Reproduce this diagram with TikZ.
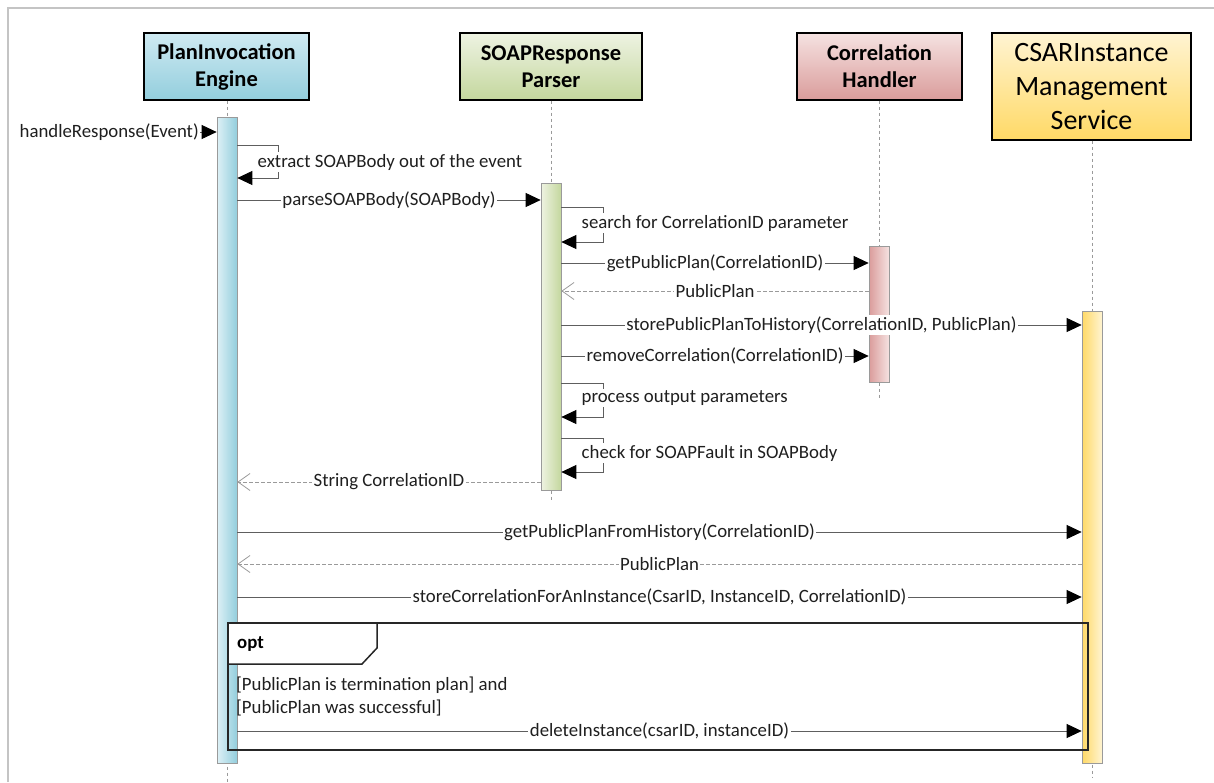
\documentclass[tikz,border=0pt]{standalone}
\usepackage{fontspec}
\setmainfont{Carlito}
\usetikzlibrary{arrows.meta}

% lifeline palettes
\definecolor{pieTop}{HTML}{CFEAF2}
\definecolor{pieBot}{HTML}{93CEDD}
\definecolor{srpTop}{HTML}{EEF3E2}
\definecolor{srpBot}{HTML}{C4D79E}
\definecolor{chTop}{HTML}{F5E2E1}
\definecolor{chBot}{HTML}{DA9C9B}
\definecolor{csTop}{HTML}{FFF4D2}
\definecolor{csBot}{HTML}{FFD966}
\definecolor{frameGray}{HTML}{C4C4C4}
\definecolor{lineGray}{HTML}{5E5E5E}
\definecolor{dashGray}{HTML}{9A9A9A}

\begin{document}
\begin{tikzpicture}[x=1pt,y=-1pt,
  head/.style={draw=black, line width=1.3pt, align=center, inner sep=0pt,
               font=\fontsize{22.5}{27}\selectfont\bfseries},
  life/.style={draw=dashGray, dash pattern=on 3pt off 3pt, line width=0.7pt},
  actbar/.style={draw=dashGray, line width=0.7pt, minimum width=20pt,
                 inner sep=0pt, anchor=north},
  lbl/.style={fill=white, inner sep=1.5pt, text=black!88,
              font=\fontsize{18.8}{23}\selectfont},
  call/.style={draw=lineGray, line width=0.8pt,
               -{Triangle[length=15pt,width=14pt,color=black]}},
  reply/.style={draw=dashGray, line width=0.8pt, dash pattern=on 3.5pt off 2.5pt,
                -{Straight Barb[length=12pt,width=17pt,color=dashGray,line width=0.8pt]}},
  fragment/.style={draw=black!85, line width=1.5pt},
]
\useasboundingbox (0,0) rectangle (1214,782);

% outer frame
\coordinate (frBL) at (8,782);
\coordinate (frTR) at (1214,8);
\draw[frameGray, line width=1.3pt] (frBL) |- (frTR);

% participants
\node[head, top color=pieTop, bottom color=pieBot, minimum width=165pt, minimum height=67pt]
  (pie) at (226.5,66.5) {PlanInvocation\\Engine};
\node[head, top color=srpTop, bottom color=srpBot, minimum width=182pt, minimum height=67pt]
  (srp) at (551,66.5) {SOAPResponse\\Parser};
\node[head, top color=chTop, bottom color=chBot, minimum width=165pt, minimum height=67pt]
  (ch) at (879.5,66.5) {Correlation\\Handler};
\node[head, top color=csTop, bottom color=csBot, minimum width=199pt, minimum height=107pt,
      font=\fontsize{28}{34}\selectfont]
  (cs) at (1091.5,86.5) {CSARInstance\\Management\\Service};

% lifeline ends
\coordinate (pieEnd) at (227,782);
\coordinate (srpEnd) at (551,500);
\coordinate (chEnd)  at (879,398);
\coordinate (csEnd)  at (1092,777);
\draw[life] (pieEnd |- pie.south) -- (pieEnd);
\draw[life] (srpEnd |- srp.south) -- (srpEnd);
\draw[life] (chEnd |- ch.south) -- (chEnd);
\draw[life] (csEnd |- cs.south) -- (csEnd);

% activation bars
\node[actbar, minimum height=646pt, left color=pieTop!70!white, right color=pieBot] (pieBar) at (227,117) {};
\node[actbar, minimum height=307pt, left color=srpTop, right color=srpBot] (srpBar) at (551,183) {};
\node[actbar, minimum height=136pt, left color=chBot, right color=chTop] (chBar) at (879,246) {};
\node[actbar, minimum height=452pt, left color=csBot, right color=csTop] (csBar) at (1092,311) {};

% message rows
\coordinate (r1) at (0,132);
\coordinate (r2a) at (0,145); \coordinate (r2l) at (0,162); \coordinate (r2b) at (0,178);
\coordinate (r3) at (0,200);
\coordinate (r4a) at (0,207); \coordinate (r4l) at (0,223); \coordinate (r4b) at (0,242);
\coordinate (r5) at (0,263);
\coordinate (r6) at (0,291);
\coordinate (r7) at (0,325);
\coordinate (r8) at (0,356);
\coordinate (r9a) at (0,383); \coordinate (r9l) at (0,398); \coordinate (r9b) at (0,417);
\coordinate (r10a) at (0,438); \coordinate (r10l) at (0,453); \coordinate (r10b) at (0,472);
\coordinate (r11) at (0,482);
\coordinate (r12) at (0,532);
\coordinate (r13) at (0,564);
\coordinate (r14) at (0,597);
\coordinate (r16) at (0,731);

% self-call turn points and label columns
\coordinate (pieTurn) at (278,0);
\coordinate (pieNote) at (256,0);
\coordinate (srpTurn) at (603,0);
\coordinate (srpNote) at (580,0);

% found message
\coordinate (found) at (18,132);
\draw[call] (found) -- (pieBar.west |- r1);
\node[lbl, anchor=west] (m1) at (found) {handleResponse(Event)};

% PlanInvocation Engine self call
\draw[call] (pieBar.east |- r2a) -| (pieTurn |- r2b) -- (pieBar.east |- r2b);
\node[lbl, anchor=west] (m2) at (pieNote |- r2l) {extract SOAPBody out of the event};

\draw[call] (pieBar.east |- r3) -- (srpBar.west |- r3)
  node[midway, lbl] (m3) {parseSOAPBody(SOAPBody)};

\draw[call] (srpBar.east |- r4a) -| (srpTurn |- r4b) -- (srpBar.east |- r4b);
\node[lbl, anchor=west] (m4) at (srpNote |- r4l) {search for CorrelationID parameter};

\draw[call] (srpBar.east |- r5) -- (chBar.west |- r5)
  node[midway, lbl] (m5) {getPublicPlan(CorrelationID)};

\draw[reply] (chBar.west |- r6) -- (srpBar.east |- r6)
  node[midway, lbl] (m6) {PublicPlan};

\draw[call] (srpBar.east |- r7) -- (csBar.west |- r7)
  node[midway, lbl] (m7) {storePublicPlanToHistory(CorrelationID, PublicPlan)};

\draw[call] (srpBar.east |- r8) -- (chBar.west |- r8)
  node[midway, lbl] (m8) {removeCorrelation(CorrelationID)};

\draw[call] (srpBar.east |- r9a) -| (srpTurn |- r9b) -- (srpBar.east |- r9b);
\node[lbl, anchor=west] (m9) at (srpNote |- r9l) {process output parameters};

\draw[call] (srpBar.east |- r10a) -| (srpTurn |- r10b) -- (srpBar.east |- r10b);
\node[lbl, anchor=west] (m10) at (srpNote |- r10l) {check for SOAPFault in SOAPBody};

\draw[reply] (srpBar.west |- r11) -- (pieBar.east |- r11)
  node[midway, lbl] (m11) {String CorrelationID};

\draw[call] (pieBar.east |- r12) -- (csBar.west |- r12)
  node[midway, lbl] (m12) {getPublicPlanFromHistory(CorrelationID)};

\draw[reply] (csBar.west |- r13) -- (pieBar.east |- r13)
  node[midway, lbl] (m13) {PublicPlan};

\draw[call] (pieBar.east |- r14) -- (csBar.west |- r14)
  node[midway, lbl] (m14) {storeCorrelationForAnInstance(CsarID, InstanceID, CorrelationID)};

\draw[call] (pieBar.east |- r16) -- (csBar.west |- r16)
  node[midway, lbl] (m16) {deleteInstance(csarID, instanceID)};

% opt combined fragment
\coordinate (optNW) at (228,623);
\coordinate (optSE) at (1088,750);
\coordinate (tabNE) at (377,623);
\coordinate (tabE)  at (377,648);
\coordinate (tabS)  at (362,664);
\coordinate (tabSW) at (228,664);
\draw[fragment] (optNW) rectangle (optSE);
\draw[fragment, fill=white] (optNW) -- (tabNE) -- (tabE) -- (tabS) -- (tabSW) -- cycle;
\node[anchor=west, inner sep=0pt, font=\fontsize{18.8}{23}\selectfont\bfseries] (optLbl) at (237,644) {opt};
\node[anchor=west, inner sep=0pt, text=black!88, font=\fontsize{18.8}{23}\selectfont] (g1) at (236,685) {[PublicPlan is termination plan] and};
\node[anchor=west, inner sep=0pt, text=black!88, font=\fontsize{18.8}{23}\selectfont] (g2) at (236,708) {[PublicPlan was successful]};
\end{tikzpicture}
\end{document}
